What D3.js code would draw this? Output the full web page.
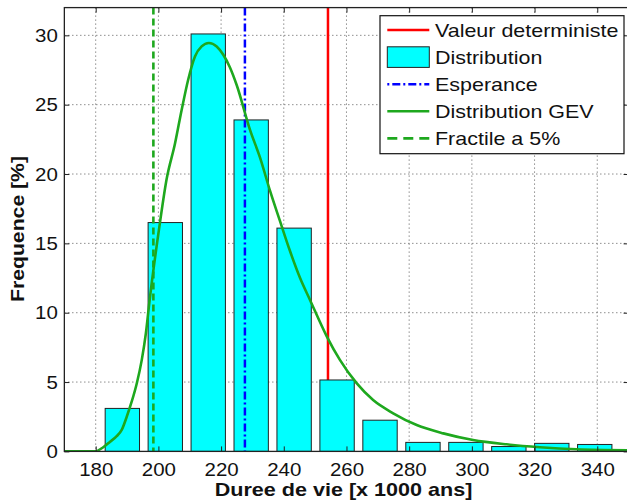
<!DOCTYPE html>
<html>
<head>
<meta charset="utf-8">
<script src="https://cdn.jsdelivr.net/npm/d3@7"></script>
<style>
  body { margin: 0; background: #fff; }
  svg { display: block; }
</style>
</head>
<body>
<svg id="chart" width="627" height="501"></svg>
<script>
// Histogram of simulated lifetimes (x 1000 years), frequency in %
const binCenters = [188.5, 202.2, 215.9, 229.6, 243.3, 257.0, 270.7, 284.4, 298.1, 311.8, 325.5, 339.2];
const binFreq    = [3.1, 16.5, 30.1, 23.9, 16.1, 5.15, 2.25, 0.65, 0.65, 0.35, 0.58, 0.5];
const binWidth   = 13.7;

// Fitted GEV density, expressed in % per bin
const gevX = [170, 179.8, 182.4, 184.6, 186.7, 188.3, 189.9, 191.5, 193.1, 194.7, 196.0, 197.1,
              200.5, 202.6, 205.3, 207.4, 209.5, 211.7, 213.8, 216.1, 218.6, 220.7, 222.8, 225.0,
              229.2, 232.4, 235.6, 238.8, 241.9, 245.2, 248.4, 253.7, 257.9, 263.3, 268.5, 274.9,
              282.4, 290.9, 300.4, 311.1, 321.7, 333.4, 350];
const gevY = [0, 0, 0.3, 0.7, 1.1, 1.55, 2.5, 3.6, 4.9, 6.6, 8.5, 10.7,
              16.5, 19.6, 22.2, 24.6, 26.8, 28.5, 29.2, 29.45, 29.2, 28.6, 27.7, 26.4,
              23.2, 21.2, 18.8, 16.6, 14.5, 12.5, 10.9, 8.3, 6.6, 4.9, 3.7, 2.75,
              1.9, 1.3, 0.82, 0.51, 0.3, 0.15, 0.08];

// Reference values
const valeurDeterministe = 254.1;
const esperance = 227.6;
const fractile5 = 198.4;

const xTicks = [180, 200, 220, 240, 260, 280, 300, 320, 340];
const yTicks = [0, 5, 10, 15, 20, 25, 30];
const xDomain = [170, 350];
const yDomain = [0, 32];

const legendLabels = ["Valeur deterministe", "Distribution", "Esperance", "Distribution GEV", "Fractile a 5%"];

const FONT = '"Liberation Sans", Arial, Helvetica, sans-serif';
const GREEN = "#1ea81e";
const svg = d3.select("#chart");

const x = d3.scaleLinear().domain(xDomain).range([64.35, 628.6]);
const y = d3.scaleLinear().domain(yDomain).range([451.4, 7.6]);
const plotL = x.range()[0], plotR = x.range()[1];
const plotT = y.range()[1], plotB = y.range()[0];

svg.append("defs").append("clipPath").attr("id", "plotClip")
  .append("rect").attr("x", plotL).attr("y", plotT)
  .attr("width", plotR - plotL).attr("height", plotB - plotT);

// dotted grid
const grid = svg.append("g")
  .attr("stroke", "#555").attr("stroke-width", 1).attr("stroke-dasharray", "1,3");
grid.selectAll("line.gx").data(xTicks).join("line").attr("class", "gx")
  .attr("x1", d => x(d)).attr("x2", d => x(d)).attr("y1", plotT).attr("y2", plotB);
grid.selectAll("line.gy").data(yTicks.filter(d => d > 0)).join("line").attr("class", "gy")
  .attr("x1", plotL).attr("x2", plotR).attr("y1", d => y(d)).attr("y2", d => y(d));

const plot = svg.append("g").attr("clip-path", "url(#plotClip)");

// deterministic value
plot.append("line")
  .attr("x1", x(valeurDeterministe)).attr("x2", x(valeurDeterministe))
  .attr("y1", plotT).attr("y2", plotB)
  .attr("stroke", "#ff0000").attr("stroke-width", 2.5);

// histogram bars
plot.selectAll("rect.bar").data(binCenters).join("rect").attr("class", "bar")
  .attr("x", d => x(d - 0.4 * binWidth))
  .attr("width", d => x(d + 0.4 * binWidth) - x(d - 0.4 * binWidth))
  .attr("y", (d, i) => y(binFreq[i]))
  .attr("height", (d, i) => y(0) - y(binFreq[i]))
  .attr("fill", "#00ffff").attr("stroke", "#222").attr("stroke-width", 1);

// expected value
plot.append("line")
  .attr("x1", x(esperance)).attr("x2", x(esperance))
  .attr("y1", plotT).attr("y2", plotB)
  .attr("stroke", "#0000ff").attr("stroke-width", 2.5)
  .attr("stroke-dasharray", "8,3,2,3");

// GEV curve
const gevLine = d3.line()
  .x(d => x(d[0])).y(d => y(d[1]))
  .curve(d3.curveMonotoneX);
plot.append("path")
  .datum(gevX.map((v, i) => [v, gevY[i]]))
  .attr("d", gevLine)
  .attr("fill", "none").attr("stroke", GREEN).attr("stroke-width", 2.6);

// 5% quantile
plot.append("line")
  .attr("x1", x(fractile5)).attr("x2", x(fractile5))
  .attr("y1", plotT).attr("y2", plotB)
  .attr("stroke", GREEN).attr("stroke-width", 2.6)
  .attr("stroke-dasharray", "7,4");

// axes (inward ticks on all four sides)
function styleAxis(g) {
  g.select(".domain").remove();
  g.selectAll(".tick line").attr("stroke", "#222").attr("stroke-width", 1);
}
const TICK_SX = 1.17;

svg.append("g").attr("transform", `translate(0,${plotB})`)
  .call(d3.axisBottom(x).tickValues(xTicks).tickSizeInner(-5).tickSizeOuter(0))
  .call(styleAxis)
  .call(g => g.selectAll("text")
    .attr("y", 24.6).attr("dy", 0)
    .attr("transform", `scale(${TICK_SX},1)`)
    .attr("font-family", FONT).attr("font-size", 17.5).attr("fill", "#111"));

svg.append("g").attr("transform", `translate(${plotL},0)`)
  .call(d3.axisLeft(y).tickValues(yTicks).tickSizeInner(-5).tickSizeOuter(0))
  .call(styleAxis)
  .call(g => g.selectAll("text")
    .attr("x", -6.5 / TICK_SX).attr("dy", "0.355em")
    .attr("transform", `scale(${TICK_SX},1)`)
    .attr("font-family", FONT).attr("font-size", 17.5).attr("fill", "#111"));

svg.append("g").attr("transform", `translate(0,${plotT})`)
  .call(d3.axisTop(x).tickValues(xTicks).tickSizeInner(-5).tickSizeOuter(0).tickFormat(""))
  .call(styleAxis);

svg.append("g").attr("transform", `translate(${plotR},0)`)
  .call(d3.axisRight(y).tickValues(yTicks).tickSizeInner(-5).tickSizeOuter(0).tickFormat(""))
  .call(styleAxis);

// frame
svg.append("rect")
  .attr("x", plotL).attr("y", plotT)
  .attr("width", plotR - plotL).attr("height", plotB - plotT)
  .attr("fill", "none").attr("stroke", "#222").attr("stroke-width", 1.3);

// axis titles
svg.append("text")
  .attr("transform", `translate(343.5,496) scale(1.16,1)`)
  .attr("text-anchor", "middle")
  .attr("font-family", FONT).attr("font-weight", "bold").attr("font-size", 18.6).attr("fill", "#111")
  .text("Duree de vie [x 1000 ans]");

svg.append("text")
  .attr("transform", `translate(23.5,229) rotate(-90) scale(1.14,1)`)
  .attr("text-anchor", "middle")
  .attr("font-family", FONT).attr("font-weight", "bold").attr("font-size", 18.6).attr("fill", "#111")
  .text("Frequence [%]");

// legend
const leg = svg.append("g");
leg.append("rect")
  .attr("x", 380).attr("y", 15.7).attr("width", 244).attr("height", 138)
  .attr("fill", "#fff").attr("stroke", "#111").attr("stroke-width", 1.2);

const rowY = i => 30 + i * 27.1;
const sx0 = 387.3, sx1 = 429.3;

leg.append("line").attr("x1", sx0).attr("x2", sx1).attr("y1", rowY(0)).attr("y2", rowY(0))
  .attr("stroke", "#ff0000").attr("stroke-width", 2.5);
leg.append("rect").attr("x", sx0).attr("y", rowY(1) - 10.3).attr("width", sx1 - sx0).attr("height", 20.6)
  .attr("fill", "#00ffff").attr("stroke", "#222").attr("stroke-width", 1);
leg.append("line").attr("x1", sx0).attr("x2", sx1).attr("y1", rowY(2)).attr("y2", rowY(2))
  .attr("stroke", "#0000ff").attr("stroke-width", 2.5).attr("stroke-dasharray", "2,3,8,3");
leg.append("line").attr("x1", sx0).attr("x2", sx1).attr("y1", rowY(3)).attr("y2", rowY(3))
  .attr("stroke", GREEN).attr("stroke-width", 2.6);
leg.append("line").attr("x1", sx0).attr("x2", sx1).attr("y1", rowY(4)).attr("y2", rowY(4))
  .attr("stroke", GREEN).attr("stroke-width", 2.6).attr("stroke-dasharray", "10,6");

leg.selectAll("text.lg").data(legendLabels).join("text").attr("class", "lg")
  .attr("transform", (d, i) => `translate(435,${rowY(i) + 7}) scale(1.13,1)`)
  .attr("font-family", FONT).attr("font-size", 19).attr("fill", "#111")
  .text(d => d);
</script>
</body>
</html>
